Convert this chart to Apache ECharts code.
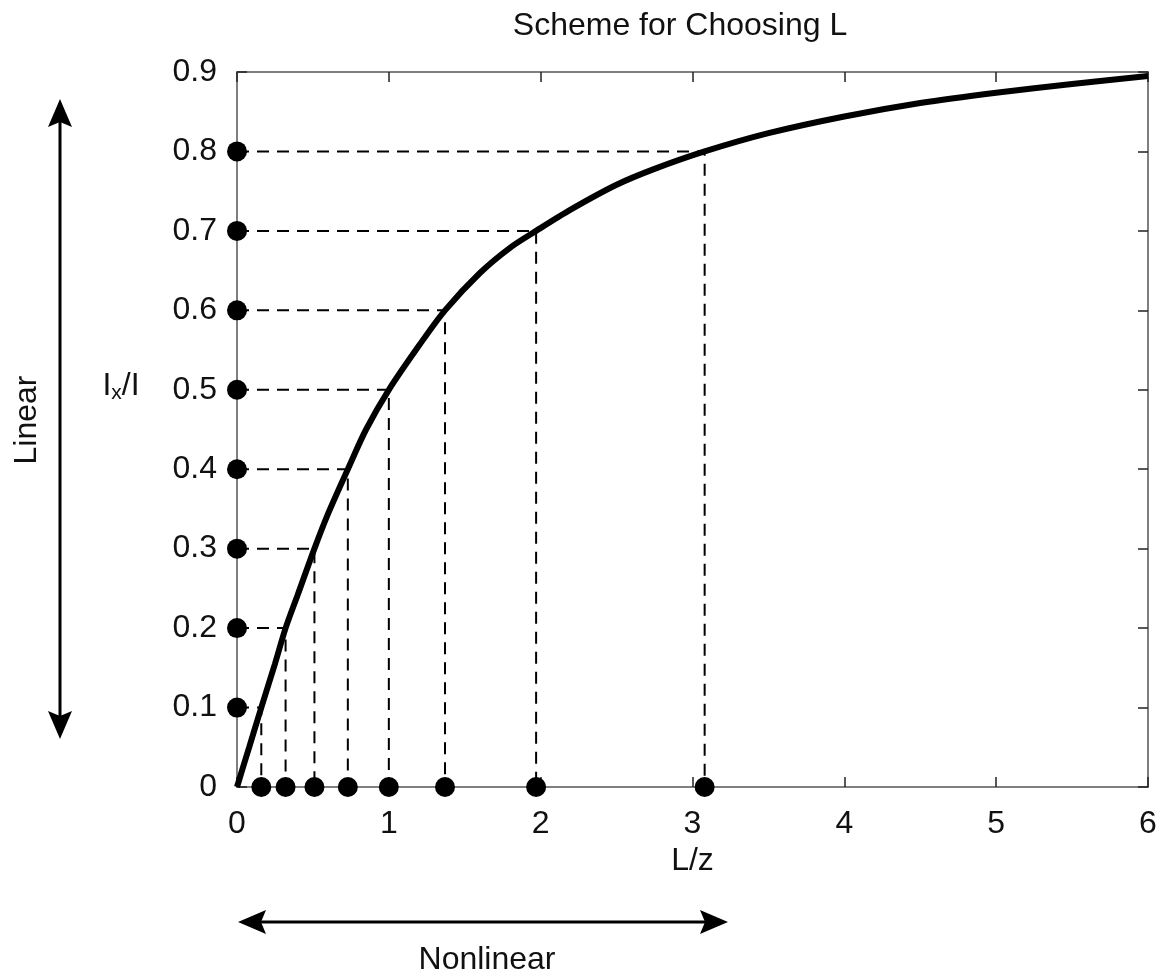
<!DOCTYPE html>
<html>
<head>
<meta charset="utf-8">
<title>Scheme for Choosing L</title>
<script src="https://cdn.jsdelivr.net/npm/echarts@6/dist/echarts.min.js"></script>
<style>
  html, body { margin: 0; padding: 0; background: #fff; }
  #chart { width: 1164px; height: 979px; }
</style>
</head>
<body>
<div id="chart"></div>
<script>
// curve Ix/I against L/z
var curveX = [0, 0.08, 0.16, 0.25, 0.32, 0.4, 0.51, 0.6, 0.73, 0.85, 1.0, 1.2, 1.37, 1.6, 1.8, 1.97, 2.2, 2.5, 2.75, 3.08, 3.5, 4.0, 4.5, 5.0, 5.5, 6.0];
var curveY = [0, 0.05, 0.1, 0.155, 0.2, 0.242, 0.3, 0.344, 0.4, 0.45, 0.5, 0.556, 0.6, 0.647, 0.679, 0.7, 0.727, 0.758, 0.778, 0.8, 0.823, 0.844, 0.861, 0.874, 0.885, 0.895];

// chosen levels on the y axis and where they meet the curve on the x axis
var levels = [0.1, 0.2, 0.3, 0.4, 0.5, 0.6, 0.7, 0.8];
var crossX = [0.16, 0.32, 0.51, 0.73, 1.0, 1.37, 1.97, 3.08];

var FONT = "'Liberation Sans', Arial, sans-serif";
var FS = 32;
var AXIS_GREY = '#7f7f7f';

var chart = echarts.init(document.getElementById('chart'));

var curveData = curveX.map(function (x, i) { return [x, curveY[i]]; });

// dashed guides: axis -> curve -> axis
var guideSeries = levels.map(function (lv, i) {
  return {
    type: 'line',
    data: [[0, lv], [crossX[i], lv], [crossX[i], 0]],
    symbol: 'none',
    silent: true,
    lineStyle: { color: '#000', width: 2, type: [12, 8] },
    z: 2
  };
});

var dots = levels.map(function (lv) { return [0, lv]; })
  .concat(crossX.map(function (x) { return [x, 0]; }));

var inTick = { show: true, inside: true, length: 10, lineStyle: { color: '#222', width: 1.5 } };
var axisLine = { show: true, onZero: false, lineStyle: { color: AXIS_GREY, width: 2 } };

chart.setOption({
  animation: false,
  backgroundColor: '#fff',
  textStyle: { fontFamily: FONT },
  title: {
    text: 'Scheme for Choosing L',
    left: 675,
    top: 5,
    textAlign: 'center',
    textStyle: { fontFamily: FONT, fontSize: FS, fontWeight: 'normal', color: '#111' }
  },
  grid: { left: 237, right: 16, top: 72, bottom: 192 },
  xAxis: [{
    type: 'value',
    min: 0, max: 6, interval: 1,
    position: 'bottom',
    name: 'L/z',
    nameLocation: 'middle',
    nameGap: 56,
    nameTextStyle: { fontFamily: FONT, fontSize: FS, color: '#111' },
    axisLine: axisLine,
    axisTick: inTick,
    splitLine: { show: false },
    axisLabel: { fontFamily: FONT, fontSize: FS, color: '#111', margin: 21 }
  }, {
    type: 'value',
    min: 0, max: 6, interval: 1,
    position: 'top',
    axisLine: axisLine,
    axisTick: inTick,
    splitLine: { show: false },
    axisLabel: { show: false }
  }],
  yAxis: [{
    type: 'value',
    min: 0, max: 0.9, interval: 0.1,
    position: 'left',
    axisLine: axisLine,
    axisTick: inTick,
    splitLine: { show: false },
    axisLabel: { fontFamily: FONT, fontSize: FS, color: '#111', margin: 20 }
  }, {
    type: 'value',
    min: 0, max: 0.9, interval: 0.1,
    position: 'right',
    axisLine: axisLine,
    axisTick: inTick,
    splitLine: { show: false },
    axisLabel: { show: false }
  }],
  series: guideSeries.concat([{
    type: 'line',
    data: curveData,
    smooth: 0.3,
    symbol: 'none',
    lineStyle: { color: '#000', width: 6 },
    z: 4
  }, {
    type: 'scatter',
    data: dots,
    symbol: 'circle',
    symbolSize: 20,
    clip: false,
    itemStyle: { color: '#000', opacity: 1 },
    z: 5
  }]),
  graphic: [
    // y axis title with subscript
    { type: 'text', x: 121, y: 386,
      style: {
        text: '{i|I}{s|x}{i|/I}', align: 'center', verticalAlign: 'middle',
        rich: {
          i: { fontFamily: FONT, fontSize: FS, fill: '#111' },
          s: { fontFamily: FONT, fontSize: 21, fill: '#111', padding: [14, 0, 0, 0] }
        }
      } },
    // vertical double arrow "Linear"
    { type: 'line', shape: { x1: 60, y1: 120, x2: 60, y2: 718 }, style: { stroke: '#000', lineWidth: 3 } },
    { type: 'polygon', shape: { points: [[60, 99], [72, 127], [60, 122], [48, 127]] }, style: { fill: '#000' } },
    { type: 'polygon', shape: { points: [[60, 739], [72, 711], [60, 716], [48, 711]] }, style: { fill: '#000' } },
    { type: 'text', x: 27, y: 420, rotation: Math.PI / 2,
      style: { text: 'Linear', font: FS + 'px ' + FONT, fill: '#111', align: 'center', verticalAlign: 'middle' } },
    // horizontal double arrow "Nonlinear"
    { type: 'line', shape: { x1: 258, y1: 922, x2: 708, y2: 922 }, style: { stroke: '#000', lineWidth: 3 } },
    { type: 'polygon', shape: { points: [[238, 922], [266, 910], [261, 922], [266, 934]] }, style: { fill: '#000' } },
    { type: 'polygon', shape: { points: [[728, 922], [700, 910], [705, 922], [700, 934]] }, style: { fill: '#000' } },
    { type: 'text', x: 487, y: 960,
      style: { text: 'Nonlinear', font: FS + 'px ' + FONT, fill: '#111', align: 'center', verticalAlign: 'middle' } }
  ]
});
</script>
</body>
</html>
